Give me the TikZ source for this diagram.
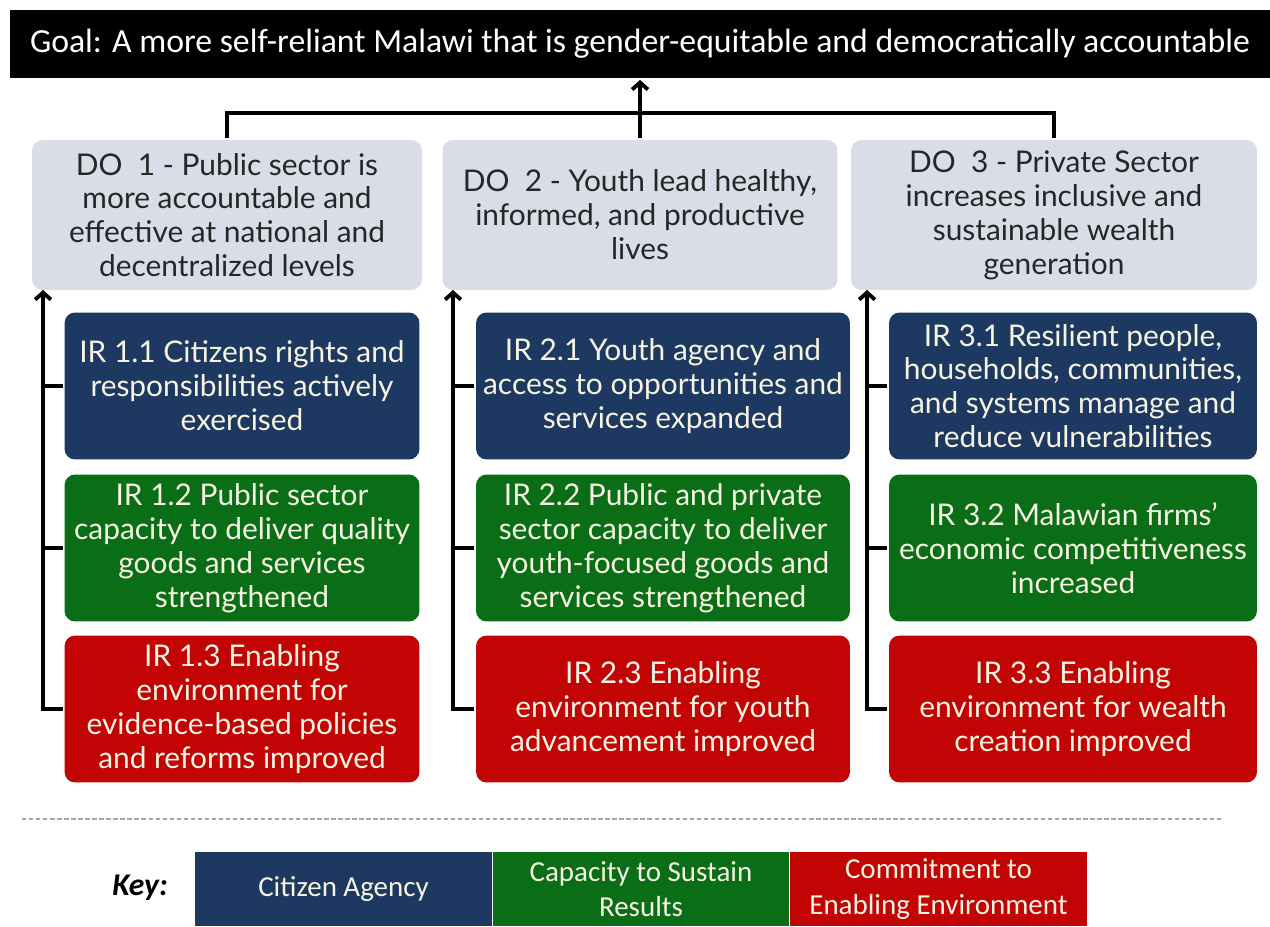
\documentclass[tikz,border=0pt]{standalone}
\usepackage{fontspec}
\usetikzlibrary{arrows.meta}
\setmainfont{Lato}
\newfontfamily\condfont{Carlito}
\definecolor{doFill}{RGB}{217,221,231}
\definecolor{irBlue}{RGB}{30,57,97}
\definecolor{irGreen}{RGB}{10,110,22}
\definecolor{irRed}{RGB}{194,4,4}
\definecolor{irText}{RGB}{247,244,228}
\begin{document}
\begin{tikzpicture}[x=0.02cm,y=-0.02cm,->,>={Straight Barb[length=4pt,width=9pt]},line width=2.2pt,
    dobox/.style={fill=doFill,rounded corners=6pt,minimum height=3cm,inner sep=1pt,align=center,text=black!85,font=\fontsize{17}{19.3}\selectfont},
    irbox/.style={rounded corners=6pt,minimum height=2.94cm,inner sep=1pt,align=center,text=irText,font=\fontsize{17}{19.3}\selectfont},
    keybox/.style={minimum width=5.94cm,minimum height=1.48cm,inner sep=2pt,align=center,text=irText,font=\condfont\fontsize{16.5}{20}\selectfont}]
        \useasboundingbox (0,0) rectangle (1270,926);
        \node[fill=black,text=white,minimum width=25.2cm,minimum height=1.36cm,inner sep=0pt,font=\condfont\fontsize{19.2}{22}\selectfont] (goal) at (640,44)
            {Goal: A more self-reliant Malawi that is gender-equitable and democratically accountable};
        \node[dobox,minimum width=7.8cm] (do1) at (227,215) {DO\ \ 1 - Public sector is\\more accountable and\\effective at national and\\decentralized levels};
        \node[dobox,minimum width=7.9cm] (do2) at (640,215) {DO\ \ 2 - Youth lead healthy,\\informed, and productive\\lives};
        \node[dobox,minimum width=8.12cm] (do3) at (1054,215) {DO\ \ 3 - Private Sector\\increases inclusive and\\sustainable wealth\\generation};
        \node[irbox,fill=irBlue,minimum width=7.1cm] (ir11) at (242,386) {IR 1.1 Citizens rights and\\responsibilities actively\\exercised};
        \node[irbox,fill=irGreen,minimum width=7.1cm] (ir12) at (242,548) {IR 1.2 Public sector\\capacity to deliver quality\\goods and services\\strengthened};
        \node[irbox,fill=irRed,minimum width=7.1cm] (ir13) at (242,709) {IR 1.3 Enabling\\environment for\\evidence-based policies\\and reforms improved};
        \node[irbox,fill=irBlue,minimum width=7.48cm] (ir21) at (663,386) {IR 2.1 Youth agency and\\access to opportunities and\\services expanded};
        \node[irbox,fill=irGreen,minimum width=7.48cm] (ir22) at (663,548) {IR 2.2 Public and private\\sector capacity to deliver\\youth-focused goods and\\services strengthened};
        \node[irbox,fill=irRed,minimum width=7.48cm] (ir23) at (663,709) {IR 2.3 Enabling\\environment for youth\\advancement improved};
        \node[irbox,fill=irBlue,minimum width=7.36cm] (ir31) at (1073,386) {IR 3.1 Resilient people,\\households, communities,\\and systems manage and\\reduce vulnerabilities};
        \node[irbox,fill=irGreen,minimum width=7.36cm] (ir32) at (1073,548) {IR 3.2 Malawian firms’\\economic competitiveness\\increased};
        \node[irbox,fill=irRed,minimum width=7.36cm] (ir33) at (1073,709) {IR 3.3 Enabling\\environment for wealth\\creation improved};
        \coordinate (hub) at (640,113);
        \coordinate (sp1) at (43,290);
        \coordinate (sp2) at (453,290);
        \coordinate (sp3) at (867,290);
        \draw[-] (do1.north) |- (hub) -| (do3.north);
        \draw (do2.north) -- (goal.south);
        \draw (ir13.west) -| (sp1);
        \draw[-] (ir11.west) -- (ir11.west -| sp1);
        \draw[-] (ir12.west) -- (ir12.west -| sp1);
        \draw (ir23.west) -| (sp2);
        \draw[-] (ir21.west) -- (ir21.west -| sp2);
        \draw[-] (ir22.west) -- (ir22.west -| sp2);
        \draw (ir33.west) -| (sp3);
        \draw[-] (ir31.west) -- (ir31.west -| sp3);
        \draw[-] (ir32.west) -- (ir32.west -| sp3);
        \draw[-,line width=0.7pt,gray!70,dash pattern=on 2.5pt off 1.5pt] (22,819) -- (1222,819);
        \node[font=\condfont\bfseries\itshape\fontsize{18}{20}\selectfont] (key) at (140,888) {Key:};
        \node[keybox,fill=irBlue] (kagency) at (343.5,889) {Citizen Agency};
        \node[keybox,fill=irGreen] (kcapacity) at (641,889) {Capacity to Sustain\\Results};
        \node[keybox,fill=irRed] (kcommit) at (938.5,889) {Commitment to\\Enabling Environment};
\end{tikzpicture}
\end{document}
